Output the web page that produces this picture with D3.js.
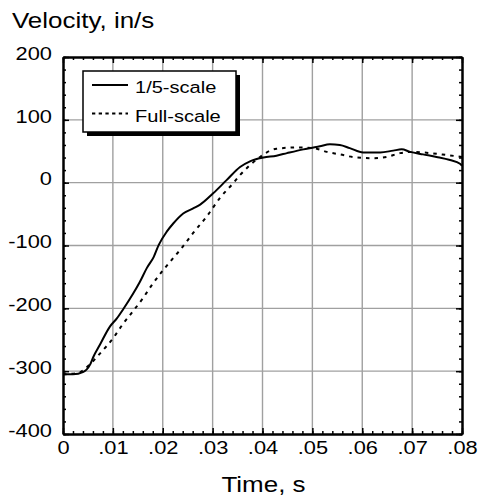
<!DOCTYPE html>
<html>
<head>
<meta charset="utf-8">
<script src="https://cdn.jsdelivr.net/npm/d3@7"></script>
<style>
  body { margin: 0; background: #fff; }
  svg text { font-family: "Liberation Sans", Arial, Helvetica, sans-serif; fill: #000; }
</style>
</head>
<body>
<svg></svg>
<script>
// data
const timeSmall = [0, .002, .0041, .0054, .0061, .0074, .0094, .0108, .0121, .0141, .0154, .0168, .0182, .0192, .0208,
  .0221, .0241, .0261, .0275, .0301, .0328, .0355, .0375, .0402, .0428, .0449, .0482, .0515, .0535, .0555, .0575,
  .0602, .0636, .0662, .0679, .0696, .0722, .0749, .0776, .0796, .08];
const velSmall = [-305, -305, -301, -290, -277, -258, -229, -216, -201, -176, -158, -136, -118, -99, -78,
  -65, -49, -41, -35, -17, 4, 25, 34, 40, 43, 47, 53, 58, 61, 60, 55,
  48, 48, 51, 53, 49, 45, 41, 36, 30, 27];

const timeFull = [0, .003, .0054, .0074, .0101, .0121, .0141, .0161, .0178, .0201, .0221, .0235, .0261, .0288, .0315,
  .0341, .0355, .0375, .0392, .0408, .0428, .0469, .0502, .0529, .0555, .0589, .0622, .0649, .0676, .0702, .0736, .0769, .08];
const velFull = [-305, -303, -289, -272, -247, -224, -204, -183, -163, -139, -120, -107, -80, -54, -24,
  -1, 12, 28, 39, 48, 54, 56, 55, 49, 45, 40, 39, 41, 47, 49, 47, 44, 41];

const xTicks = [0, .01, .02, .03, .04, .05, .06, .07, .08];
const yTicks = [-400, -300, -200, -100, 0, 100, 200];
const legendLabels = ["1/5-scale", "Full-scale"];

const width = 479;
const height = 500;
const sx = 1.18; // the reference text is a bit wide

const svg = d3.select('svg')
  .attr('width', width)
  .attr('height', height);

const xScale = d3.scaleLinear().domain([0, .08]).range([63, 462]);
const yScale = d3.scaleLinear().domain([-400, 200]).range([434, 57]);

let stretch = (sel) => {
  sel.each(function () {
    const t = d3.select(this);
    const x = +t.attr('x') || 0;
    const y = +t.attr('y') || 0;
    t.attr('x', null).attr('y', null)
     .attr('transform', 'translate(' + x + ',' + y + ') scale(' + sx + ',1)');
  });
};

// grid
svg.append('g')
  .selectAll('line')
  .data(xTicks.slice(1, -1))
  .enter()
  .append('line')
  .attr('x1', d => xScale(d)).attr('x2', d => xScale(d))
  .attr('y1', yScale(-400)).attr('y2', yScale(200))
  .attr('stroke', '#a0a0a0').attr('stroke-width', 1.4);

svg.append('g')
  .selectAll('line')
  .data(yTicks.slice(1, -1))
  .enter()
  .append('line')
  .attr('y1', d => yScale(d)).attr('y2', d => yScale(d))
  .attr('x1', xScale(0)).attr('x2', xScale(.08))
  .attr('stroke', '#a0a0a0').attr('stroke-width', 1.4);

// curves
let line = d3.line()
  .x(d => xScale(d[0]))
  .y(d => yScale(d[1]))
  .curve(d3.curveMonotoneX);

svg.append('path')
  .datum(timeFull.map((t, i) => [t, velFull[i]]))
  .attr('d', line)
  .attr('fill', 'none')
  .attr('stroke', '#000')
  .attr('stroke-width', 2)
  .attr('stroke-dasharray', '3.5,5');

svg.append('path')
  .datum(timeSmall.map((t, i) => [t, velSmall[i]]))
  .attr('d', line)
  .attr('fill', 'none')
  .attr('stroke', '#000')
  .attr('stroke-width', 2);

// axes, ticks pointing inward on all four sides
let xMinor = d3.range(0, 41).map(i => i * .002);
let yMinor = d3.range(0, 31).map(i => -400 + i * 20);
let xFmt = d => d === 0 ? '0' : d3.format('.2f')(d).replace(/^0/, '');
let yFmt = d => String(d); // plain hyphen, not the unicode minus

let addAxis = (axis, transform) => {
  let g = svg.append('g').attr('transform', transform).call(axis);
  g.select('.domain').attr('stroke-width', 2);
  g.selectAll('.tick line').attr('stroke-width', 1.5);
  return g;
};

addAxis(d3.axisBottom(xScale).tickValues(xMinor).tickSize(-3).tickSizeOuter(0).tickFormat(''), 'translate(0,' + yScale(-400) + ')');
addAxis(d3.axisTop(xScale).tickValues(xMinor).tickSize(-3).tickSizeOuter(0).tickFormat(''), 'translate(0,' + yScale(200) + ')');
addAxis(d3.axisLeft(yScale).tickValues(yMinor).tickSize(-3).tickSizeOuter(0).tickFormat(''), 'translate(' + xScale(0) + ',0)');
addAxis(d3.axisRight(yScale).tickValues(yMinor).tickSize(-3).tickSizeOuter(0).tickFormat(''), 'translate(' + xScale(.08) + ',0)');

addAxis(d3.axisTop(xScale).tickValues(xTicks).tickSize(-6).tickSizeOuter(0).tickFormat(''), 'translate(0,' + yScale(200) + ')');
addAxis(d3.axisRight(yScale).tickValues(yTicks).tickSize(-6).tickSizeOuter(0).tickFormat(''), 'translate(' + xScale(.08) + ',0)');

let xAxisG = addAxis(d3.axisBottom(xScale).tickValues(xTicks).tickSize(-6).tickSizeOuter(0).tickPadding(7).tickFormat(xFmt),
  'translate(0,' + yScale(-400) + ')');
xAxisG.selectAll('text')
  .attr('font-size', 18.5)
  .attr('font-family', null)
  .call(stretch);

let yAxisG = addAxis(d3.axisLeft(yScale).tickValues(yTicks).tickSize(-6).tickSizeOuter(0).tickPadding(11).tickFormat(yFmt),
  'translate(' + xScale(0) + ',0)');
yAxisG.selectAll('text')
  .attr('font-size', 18.5)
  .attr('font-family', null)
  .attr('dy', '0.12em')
  .call(stretch);

// axis titles
svg.append('text')
  .attr('x', 12).attr('y', 28)
  .attr('font-size', 22)
  .text('Velocity, in/s')
  .call(stretch);

svg.append('text')
  .attr('x', (xScale(0) + xScale(.08)) / 2 + 1).attr('y', 492)
  .attr('text-anchor', 'middle')
  .attr('font-size', 22)
  .text('Time, s')
  .call(stretch);

// legend
let legend = svg.append('g');
legend.append('rect')
  .attr('x', 87).attr('y', 75).attr('width', 153).attr('height', 61)
  .attr('fill', '#000');
legend.append('rect')
  .attr('x', 83).attr('y', 71).attr('width', 153).attr('height', 61)
  .attr('fill', '#fff').attr('stroke', '#000').attr('stroke-width', 1.5);

legend.selectAll('line.key')
  .data(legendLabels)
  .enter()
  .append('line')
  .attr('class', 'key')
  .attr('x1', 92).attr('x2', 128)
  .attr('y1', (d, i) => 85 + i * 28.5).attr('y2', (d, i) => 85 + i * 28.5)
  .attr('stroke', '#000').attr('stroke-width', 2)
  .attr('stroke-dasharray', (d, i) => i === 0 ? null : '3.3,3.4');

legend.selectAll('text')
  .data(legendLabels)
  .enter()
  .append('text')
  .attr('x', 135).attr('y', (d, i) => 93.3 + i * 28.5)
  .attr('font-size', 17)
  .text(d => d)
  .call(stretch);
</script>
</body>
</html>
